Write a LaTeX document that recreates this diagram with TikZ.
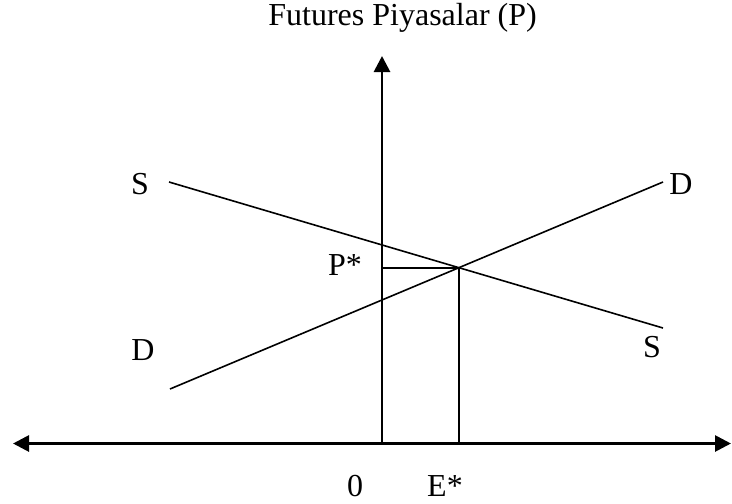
\documentclass[tikz,border=0pt]{standalone}
\usepackage{fontspec}
\setmainfont{Liberation Serif}
\usetikzlibrary{arrows.meta}
\tikzset{
  tip/.style={line width=2.8pt},
  ax/.style={line width=2.8pt,-{Triangle[length=16pt,width=16pt]}},
  ln/.style={line width=1.6pt},
  lbl/.style={font=\fontsize{32}{38}\selectfont,inner sep=0pt}
}

\begin{document}
\begin{tikzpicture}[x=1pt,y=-1pt]
\useasboundingbox (0,0) rectangle (732,504);
% axes
\coordinate (O) at (382,443.5);
\coordinate (xl) at (13,443.5);
\coordinate (xr) at (731,443.5);
\coordinate (yt) at (382,56);
\draw[tip,{Triangle[length=16pt,width=16pt]}-{Triangle[length=16pt,width=16pt]}] (xl) -- (xr);
\draw[ax] (O) -- (yt);
% supply and demand
\coordinate (s1) at (169,182);
\coordinate (s2) at (663,328);
\coordinate (d1) at (170,389);
\coordinate (d2) at (663,182);
\draw[ln] (s1) -- (s2);
\draw[ln] (d1) -- (d2);
\coordinate (E) at (intersection of s1--s2 and d1--d2);
\coordinate (pa) at (E -| O);
\coordinate (ea) at (E |- O);
\draw[ln] (pa) -- (E) -- (ea);
% labels
\node[lbl,anchor=base east] (ttl) at (537,25) {Futures Piyasalar (P)};
\node[lbl] (sl) at (140,184) {S};
\node[lbl] (dr) at (681,184) {D};
\node[lbl] (pst) at (345,265) {P*};
\node[lbl] (dl) at (143,350) {D};
\node[lbl] (sr) at (652,347) {S};
\node[lbl] (zero) at (355,486) {0};
\node[lbl] (est) at (445,486) {E*};
\end{tikzpicture}
\end{document}
